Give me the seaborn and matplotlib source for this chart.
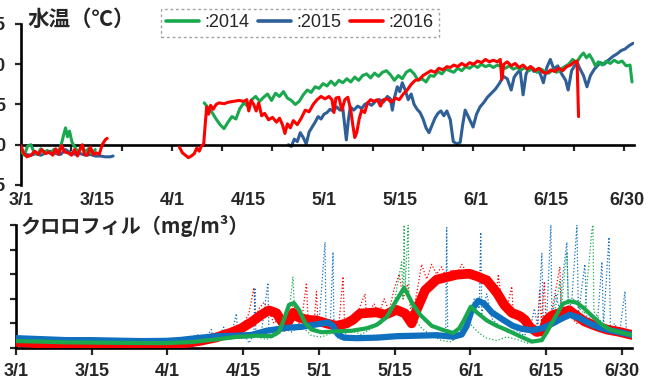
import matplotlib
matplotlib.use("Agg")
import matplotlib.pyplot as plt
from matplotlib.lines import Line2D
import seaborn as sns

# x values are days counted from 3/1

# ---------------- water temperature (deg C) ----------------
t14_mar_day = [0, 0.7, 1.3, 2, 2.6, 3.3, 4, 4.6, 5.3, 6, 6.6, 7.3, 8, 8.6, 9, 9.4, 9.8,
               10.3, 11, 11.6, 12.3, 13, 13.6, 14.3, 15]
t14_mar_val = [-0.8, -1.3, -0.2, 0.0, -0.9, -1.2, -0.5, -1.0, -0.7, -1.1, -0.6, -1.0, -0.3,
               1.2, 2.1, 1.0, 1.7, 0.3, -0.4, -1.0, -0.2, -0.9, -0.5, -1.1, -0.6]
t14_spr_day = [37, 37.8, 38.6, 39.4, 40.2, 41, 41.8, 42.6, 43.4, 44.2, 45, 45.8, 46.6, 47.4,
               48.2, 49, 49.8, 50.6, 51.4, 52.2, 53, 53.8, 54.6, 55.4, 56.2, 57, 57.8, 58.6,
               59.4, 60.2, 61, 61.8, 62.6, 63.4, 64.2, 65, 65.8, 66.6, 67.4, 68.2, 69, 69.8,
               70.6, 71.4, 72.2, 73, 73.8, 74.6, 75.4, 76.2, 77, 77.8, 78.6, 79.4, 80.2, 81,
               81.8, 82.6, 83.4, 84.2, 85, 85.8, 86.6, 87.4, 88.2, 89, 89.8, 90.6, 91.4, 92.2,
               93, 93.8, 94.6, 95.4, 96.2, 97, 97.8, 98.6, 99.4, 100.2, 101, 101.8, 102.6,
               103.4, 104.2, 105, 105.8, 106.6, 107.4, 108.2, 109, 109.8, 110.6, 111.4, 112.2,
               113, 113.6, 114.2, 114.8, 115.4, 116, 116.6, 117.4, 118.2, 119, 119.8, 120.6,
               121.4, 122.2, 123, 123.4]
t14_spr_val = [5.2, 4.6, 4.0, 3.2, 2.5, 2.0, 2.8, 3.5, 3.2, 4.5, 5.2, 4.8, 5.6, 6.0,
               5.4, 5.9, 6.3, 5.5, 6.4, 6.0, 6.6, 5.8, 5.5, 5.0, 5.4, 6.2, 6.8, 6.5,
               7.2, 7.0, 7.6, 7.3, 7.9, 7.4, 8.0, 7.7, 8.2, 7.8, 8.4, 8.0, 8.6, 8.8,
               8.3, 8.9, 8.5, 9.0, 9.2, 8.7, 8.0, 8.6, 8.2, 9.0, 9.3, 8.8, 8.0, 8.2,
               7.8, 8.6, 8.5, 9.1, 8.8, 9.4, 9.2, 9.0, 9.5, 9.2, 9.7, 9.5, 9.9, 9.6,
               10.0, 9.7, 9.9, 9.6, 9.9, 9.7, 9.5, 9.8, 9.4, 9.6, 9.3, 9.6, 9.2,
               9.5, 9.0, 9.4, 9.1, 8.9, 9.3, 9.0, 9.4, 9.7, 10.0, 10.6, 10.2,
               11.0, 11.4, 10.8, 11.2, 10.6, 9.8, 10.3, 9.9, 10.4, 10.1, 10.5, 10.2,
               10.4, 9.8, 9.9, 7.8]

t15_mar_day = [0, 1, 2, 3, 4, 5, 6, 7, 8, 9, 10, 11, 12, 13, 14, 15, 16, 17, 18, 18.6]
t15_mar_val = [-1.0, -1.2, -1.3, -1.1, -1.3, -1.0, -0.8, -1.1, -1.2, -0.6, -1.0, -1.2,
               -1.1, -1.3, -1.2, -1.4, -1.4, -1.5, -1.5, -1.4]
t15_spr_day = [54.0, 54.6, 55.2, 55.8, 56.4, 57.0, 57.6, 58.2, 58.8, 59.4, 60.0, 60.6, 61.2,
               61.8, 62.4, 63.0, 63.8, 64.4, 65.0, 65.7, 66.1, 66.5, 67.2, 68.0, 68.8, 69.4,
               70.0, 70.8, 71.6, 72.4, 73.2, 74.0, 74.6, 75.0, 75.4, 76.0, 76.5, 77.0, 77.6,
               78.2, 78.8, 79.4, 80.0, 80.6, 81.2, 81.8, 82.4, 83.0, 83.6, 84.2, 84.8, 85.4,
               86.0, 86.7, 87.3, 88.0, 88.7, 89.2, 89.7, 90.4, 91.3, 92.0, 92.7, 93.4, 94.2,
               95.0, 95.8, 96.6, 97.4, 98.2, 99.0, 99.6, 100.2, 100.8, 101.4, 102.0, 102.8,
               103.6, 104.4, 105.0, 105.5, 106.2, 106.9, 107.6, 108.4, 109.0, 109.5, 110.0,
               110.5, 111.2, 111.8, 112.3, 113.0, 113.6, 114.3, 115.0, 115.8, 116.4, 117.0,
               117.8, 118.6, 119.6, 120.4, 121.2, 122.0, 122.8, 123.6]
t15_spr_val = [0.0, -0.2, 0.7, 0.4, 1.5, 0.9, 0.1, 1.6, 2.2, 2.8, 3.5, 3.2, 3.8,
               4.0, 4.4, 4.2, 4.7, 4.3, 4.5, 0.6, 3.0, 4.7, 4.3, 4.8, 4.5, 5.0,
               5.2, 4.9, 5.4, 5.6, 5.3, 6.0, 5.7, 4.3, 5.8, 7.2, 6.6, 7.7, 6.8,
               5.6, 6.3, 5.0, 4.4, 4.0, 3.2, 2.1, 1.5, 2.4, 3.3, 3.9, 4.2, 3.6,
               4.2, 3.1, 0.4, 0.1, 0.3, 2.5, 4.3, 3.4, 2.2, 3.8, 4.7, 5.2, 5.9,
               6.4, 6.9, 7.6, 8.5, 8.2, 6.8, 8.4, 8.9, 9.3, 6.2, 8.8, 9.7,
               9.1, 9.4, 8.6, 7.7, 9.6, 10.6, 9.4, 9.8, 9.0, 8.5, 8.0,
               6.8, 9.2, 9.8, 10.2, 9.3, 8.6, 7.2, 8.6, 9.4, 9.8, 10.2,
               10.0, 10.5, 11.0, 11.3, 11.7, 11.9, 12.3, 12.6]

t16_mar_day = [0, 0.5, 1.2, 2, 2.8, 3.5, 4.2, 5, 5.7, 6.4, 7, 7.6, 8.2, 8.8, 9.5, 10.2,
               10.8, 11.4, 12, 12.4, 12.8, 13.4, 14, 14.6, 15.2, 15.8, 16.4, 17, 17.4]
t16_mar_val = [-0.1, -1.0, -1.5, -1.3, -0.8, -1.2, -0.6, -1.1, -0.9, -1.3, -0.5, -1.2,
               -0.1, -0.9, -1.0, -1.3, -0.6, -1.4, -0.4, 0.0, -1.2, -1.3, -0.3, -1.2,
               -1.0, -1.2, 0.0, 0.6, 0.8]
t16_spr_day = [32.0, 32.6, 33.2, 33.8, 34.4, 35.0, 35.5, 36.0, 36.4, 36.9, 37.2, 37.5,
               37.9, 38.3, 38.8, 39.4, 40.0, 41.0, 42.0, 43.0, 44.0, 45.0, 45.6, 46.0,
               46.5, 47.0, 47.5, 48.0, 48.6, 49.2, 50.0, 50.8, 51.6, 52.2, 52.8, 53.3,
               53.8, 54.4, 55.0, 55.8, 56.6, 57.4, 58.2, 59.0, 59.8, 60.6, 61.4, 62.2,
               62.8, 63.2, 63.6, 64.2, 64.8, 65.4, 66.0, 66.6, 67.0, 67.4, 67.8, 68.3,
               68.8, 69.4, 70.0, 70.6, 71.2, 72.0, 72.6, 73.2, 74.0, 74.8, 75.6, 76.4,
               77.2, 78.0, 78.8, 79.6, 80.4, 81.2, 82.0, 82.8, 83.6, 84.4, 85.2, 86.0,
               86.7, 87.4, 88.2, 89.0, 89.8, 90.6, 91.4, 92.2, 93.0, 93.8, 94.6, 95.4,
               96.2, 96.8, 97.1, 97.5, 98.2, 99.0, 99.8, 100.6, 101.4, 102.2, 103.0,
               103.8, 104.6, 105.4, 106.2, 107.0, 107.8, 108.6, 109.4, 110.2, 111.0,
               111.8, 112.3, 112.6]
t16_spr_val = [-0.3, -1.0, -1.3, -1.6, -1.4, -1.1, -0.4, -0.8, -0.2, 0.1, 2.5, 4.7,
               3.8, 4.9, 4.4, 5.0, 5.2, 5.1, 5.3, 5.4, 5.5, 5.4, 5.6, 4.2,
               5.5, 5.0, 4.2, 5.2, 3.6, 3.9, 3.1, 3.4, 2.8, 3.3, 2.5, 1.4,
               2.6, 2.1, 3.0, 2.5, 3.3, 4.3, 4.1, 5.0, 5.6, 6.0, 5.7, 6.0,
               5.6, 4.0, 5.8, 5.9, 4.3, 5.6, 5.9, 4.3, 2.5, 0.9, 1.5, 3.2,
               4.3, 4.0, 5.2, 5.6, 5.4, 5.6, 4.8, 5.6, 5.7, 5.3, 5.8, 5.6,
               6.3, 6.8, 7.5, 8.0, 8.1, 8.6, 8.9, 9.2, 9.0, 9.5, 9.3, 9.7,
               9.6, 9.9, 9.7, 10.1, 9.8, 10.2, 10.0, 10.4, 10.2, 10.6, 10.3, 10.5,
               10.3, 10.6, 8.1, 10.0, 10.3, 9.8, 10.1, 9.6, 9.9, 9.4, 9.7,
               9.2, 9.5, 9.0, 8.9, 9.3, 9.1, 9.5, 9.2, 9.7, 9.9,
               10.3, 10.4, 3.5]

# ---------------- chlorophyll (mg/m3) ----------------
c14_raw_day = [0, 5, 10, 15, 20, 25, 30, 35, 40, 44, 48, 50, 52, 53.5, 54.5, 55.3, 55.6,
               56.5, 57.5, 59, 61, 63, 65, 67, 69, 71, 73, 74.5, 75.5, 77.0, 77.3, 77.5,
               77.7, 78.3, 78.5, 79.5, 81, 83, 85, 87, 88.5, 90, 91, 92.5, 94, 96, 98, 100,
               102, 104, 106, 107.5, 108.6, 108.9, 109.5, 110, 110.3, 111.5, 112.5, 113.5,
               115.0, 115.2, 115.4, 117, 119, 121, 123]
c14_raw_val = [2.0, 2.5, 1.8, 2.5, 1.5, 2.0, 1.8, 2.5, 3.0, 4.0, 4.5, 3.5, 5.0, 10.0, 14.0,
               29.0, 16.0, 12.0, 8.0, 5.0, 4.5, 6.0, 5.0, 7.0, 5.5, 8.0, 10.0, 14.0, 18.0,
               35.0, 20.0, 50.0, 24.0, 50.0, 20.0, 12.0, 8.0, 5.0, 3.0, 2.5, 6.0, 14.0, 9.0,
               6.0, 4.0, 3.0, 4.5, 3.5, 2.0, 2.5, 6.0, 14.0, 27.0, 16.0, 30.0, 39.0, 18.0,
               20.0, 16.0, 14.0, 48.0, 50.0, 15.0, 10.0, 8.0, 6.0, 5.0]
c15_raw_day = [33, 35, 36.5, 37, 38.5, 39, 39.3, 40.5, 41.5, 41.8, 43, 44, 44.3, 45.5, 46.5,
               47.5, 47.7, 47.9, 49, 50.3, 50.5, 52, 53.5, 55, 56.5, 58, 59.5, 60.5, 61.7,
               61.9, 62.8, 63.3, 63.5, 64.5, 66, 68, 70, 72, 74, 76, 78, 80, 82, 84, 85.8,
               86.0, 86.2, 87.5, 89, 90.5, 91.5, 92.5, 92.8, 93.0, 94, 95, 96.5, 98, 100,
               101.5, 102.8, 103.5, 104.2, 105.0, 105.3, 106, 106.8, 107.0, 107.8, 108.6,
               109.2, 110.0, 110.3, 111, 112.0, 112.3, 113.0, 113.6, 114.0, 115, 116, 117.0,
               117.3, 118.4, 118.7, 119.5, 120.5, 121.6, 121.9, 123]
c15_raw_val = [3.5, 4.2, 5.5, 3.8, 6.0, 7.5, 4.5, 5.0, 8.5, 4.8, 5.2, 14.0, 5.0, 6.0, 2.0,
               5.5, 24.5, 5.5, 6.5, 26.5, 6.0, 7.0, 8.0, 6.5, 8.5, 9.5, 7.5, 10.0, 43.0,
               9.0, 12.0, 39.0, 6.0, 3.5, 4.5, 3.0, 4.0, 3.5, 5.0, 4.0, 5.5, 4.5, 5.5, 4.0,
               4.5, 49.0, 5.0, 3.5, 6.0, 12.0, 20.0, 16.0, 47.0, 14.0, 22.0, 12.0, 9.0, 6.5,
               7.0, 5.0, 9.0, 16.0, 8.0, 38.5, 9.0, 14.0, 50.0, 12.0, 22.0, 15.0, 30.0, 43.0,
               14.0, 20.0, 50.0, 13.0, 25.0, 34.0, 10.0, 14.0, 8.0, 35.0, 9.0, 45.0, 7.0,
               10.0, 6.0, 23.0, 5.0, 6.0]
c16_raw_day = [0, 3, 6, 9, 12, 15, 18, 22, 26, 30, 33, 36, 39, 42, 44, 45.5, 46.5, 47.5,
               47.8, 48.5, 49.5, 50.5, 51.5, 52.5, 53.5, 54.5, 55.5, 56.5, 57.2, 58.0, 58.3,
               59.5, 60.0, 60.3, 61.5, 63, 64.5, 65.3, 65.6, 67, 68.5, 69.7, 70, 71.5, 72.5,
               73.5, 74.5, 75.5, 76.5, 77.3, 78.2, 79, 80, 81, 82, 83, 84, 85, 86, 87, 88,
               89, 90, 91.5, 93, 94.5, 96, 96.3, 97, 98, 99, 99.3, 100.5, 101.5, 102.5, 104,
               104.6, 104.9, 105.5, 105.8, 107, 108.6, 108.9, 110, 111, 112, 114, 116, 118,
               120, 123]
c16_raw_val = [4.5, 3.5, 4.0, 3.2, 4.0, 3.0, 1.5, 1.0, 1.2, 1.5, 2.0, 2.5, 4.0, 6.5, 8.5,
               10.0, 14.0, 24.5, 12.0, 16.0, 18.5, 15.0, 10.0, 12.0, 6.5, 14.0, 18.0, 10.0,
               14.0, 26.5, 12.0, 9.5, 23.0, 10.0, 12.0, 8.0, 10.0, 29.0, 10.0, 12.0, 16.0,
               22.0, 13.0, 18.0, 14.0, 20.0, 15.0, 24.0, 30.0, 20.0, 26.0, 12.0, 22.0, 34.0,
               28.0, 34.0, 30.0, 33.0, 28.0, 32.0, 30.0, 34.0, 31.0, 30.0, 26.0, 29.0, 22.0,
               30.0, 18.0, 16.0, 25.0, 13.0, 14.0, 12.0, 9.0, 7.0, 24.0, 10.0, 27.0, 12.0,
               15.0, 33.0, 14.0, 16.0, 12.0, 10.0, 11.0, 9.0, 8.0, 7.0, 5.5]

c14_fit_day = [0, 5, 10, 15, 20, 25, 30, 35, 40, 44, 48, 51, 52.5, 53.5, 54.5, 55.5, 56.5,
               57.8, 59, 61, 64, 67, 70, 72, 74, 75.7, 77.5, 79.3, 80.7, 83, 85.3, 87.3,
               88.5, 89.5, 90.8, 92, 94, 96, 98, 100.6, 103, 105, 106, 107.5, 109.2, 110.5,
               112, 113.5, 115.2, 117, 118.6, 121, 123]
c14_fit_val = [2.8, 2.6, 2.3, 2.2, 2.1, 2.0, 2.0, 2.4, 3.5, 4.5, 5.0, 4.8, 6.5, 11.5, 17.5,
               18.3, 15.5, 10.0, 7.5, 6.4, 6.8, 7.0, 8.0, 9.4, 12.5, 18.5, 24.5, 17.6, 13.5,
               9.0, 7.3, 6.1, 8.0, 11.5, 16.8, 14.5, 11.2, 9.0, 7.3, 4.8, 2.6, 3.2, 6.5,
               12.0, 18.0, 19.0, 18.4, 16.0, 12.7, 9.5, 7.5, 6.2, 5.3]
c15_fit_day = [0, 5, 10, 15, 20, 25, 30, 33, 36, 40, 44, 47, 50, 54, 57, 60, 61.2, 62.3,
               63.3, 64.3, 65.5, 68, 72, 76, 80, 84, 87.3, 89, 90, 91, 92.3, 93.5, 95, 97,
               99.2, 101, 103, 105, 107, 109, 110.6, 112.5, 114.5, 116.5, 118.5, 121, 123]
c15_fit_val = [4.0, 3.6, 3.2, 3.2, 3.0, 2.8, 2.9, 3.3, 4.0, 4.8, 5.0, 5.3, 7.0, 8.2, 8.6,
               9.6, 10.0, 10.4, 9.0, 5.5, 4.2, 4.0, 4.2, 4.8, 5.0, 5.2, 4.6, 5.5, 9.0, 15.5,
               19.2, 18.0, 14.5, 11.8, 9.0, 7.8, 7.2, 8.0, 9.8, 12.0, 13.5, 12.2, 10.0, 8.3,
               7.2, 6.2, 5.3]
c16_fit_day = [0, 4, 8, 12, 16, 20, 24, 28, 31, 34, 37, 40, 43, 45, 47, 49, 50.5, 52, 53,
               53.8, 54.6, 55.4, 56.4, 58, 60, 62, 64, 66, 67.3, 68.7, 72, 73.7, 76, 77.7,
               79, 80, 81.7, 84, 88, 90.5, 92, 94, 96, 97.5, 99, 100.6, 101.6, 102.6, 104,
               105.2, 106, 107, 109, 110.5, 112, 113.5, 116, 118, 120.6, 123]
c16_fit_val = [2.5, 2.0, 1.5, 1.3, 1.3, 1.2, 1.2, 1.3, 1.5, 2.0, 3.0, 4.3, 6.3, 8.0, 10.5,
               13.5, 15.3, 14.2, 11.0, 8.8, 11.5, 14.3, 12.5, 11.5, 11.2, 10.0, 9.0, 10.0,
               11.5, 14.0, 14.5, 13.5, 15.5, 14.0, 10.0, 15.5, 23.5, 27.8, 29.8, 30.2, 29.2,
               27.5, 22.5, 17.5, 14.3, 13.0, 11.5, 8.5, 6.5, 7.0, 11.5, 13.2, 14.5, 15.3,
               13.0, 10.8, 8.8, 7.5, 6.5, 5.3]

date_labels = ["3/1", "3/15", "4/1", "4/15", "5/1", "5/15", "6/1", "6/15", "6/30"]
years = [":2014", ":2015", ":2016"]

GREEN = "#1aa84e"
BLUE_T = "#2f5f97"
BLUE_C = "#1070c0"
RED = "#ff0000"

sns.set_theme(style="white")
plt.rcParams["font.family"] = ["Liberation Sans", "Noto Sans CJK JP"]

fig = plt.figure(figsize=(6.59, 3.82), dpi=100)
ax_t = fig.add_axes([21 / 659, 1 - 185 / 382, 613 / 659, 161 / 382])
ax_c = fig.add_axes([16 / 659, 1 - 348 / 382, 616 / 659, 123 / 382])

# --- top: water temperature ---
for d, v, c, z in [(t15_mar_day, t15_mar_val, BLUE_T, 2), (t15_spr_day, t15_spr_val, BLUE_T, 2),
                   (t14_mar_day, t14_mar_val, GREEN, 3), (t14_spr_day, t14_spr_val, GREEN, 3),
                   (t16_mar_day, t16_mar_val, RED, 4), (t16_spr_day, t16_spr_val, RED, 4)]:
    sns.lineplot(x=d, y=v, ax=ax_t, color=c, linewidth=2.2, sort=False,
                 estimator=None, zorder=z)

ax_t.set_xlim(0, 123.8)
ax_t.set_ylim(-5, 15)
for s in ["top", "right"]:
    ax_t.spines[s].set_visible(False)
ax_t.spines["bottom"].set_position(("data", 0))
for s in ["left", "bottom"]:
    ax_t.spines[s].set_linewidth(1.9)
    ax_t.spines[s].set_color("black")
ax_t.set_yticks([-5, 0, 5, 10, 15])
ax_t.set_yticklabels(["-5", "0", "5", "10", "15"], fontsize=13, fontweight="bold")
ax_t.tick_params(axis="y", length=4, width=1.6, direction="out", pad=7, left=True)
ax_t.set_xticks([i * 15.3 for i in range(len(date_labels))])
ax_t.set_xticklabels(date_labels, fontsize=13, fontweight="bold")
ax_t.tick_params(axis="x", which="major", length=0, pad=34)
ax_t.set_xticks([i * 121.8 / 12 for i in range(13)], minor=True)
ax_t.tick_params(axis="x", which="minor", length=4, width=1.6, direction="out", bottom=True)
ax_t.set_xlabel("")
ax_t.set_ylabel("")

# --- bottom: chlorophyll ---
for d, v, c in [(c16_raw_day, c16_raw_val, RED), (c14_raw_day, c14_raw_val, GREEN),
                (c15_raw_day, c15_raw_val, BLUE_C)]:
    sns.lineplot(x=d, y=v, ax=ax_c, color=c, linewidth=0.9, linestyle=":",
                 sort=False, estimator=None, zorder=2)
for d, v, c, w, z in [(c16_fit_day, c16_fit_val, RED, 7, 3),
                      (c15_fit_day, c15_fit_val, BLUE_C, 4.5, 4),
                      (c14_fit_day, c14_fit_val, GREEN, 3, 5)]:
    sns.lineplot(x=d, y=v, ax=ax_c, color=c, linewidth=w, sort=False,
                 estimator=None, zorder=z)

ax_c.set_xlim(0, 123)
ax_c.set_ylim(0, 50)
for s in ["top", "right"]:
    ax_c.spines[s].set_visible(False)
for s in ["left", "bottom"]:
    ax_c.spines[s].set_linewidth(1.9)
    ax_c.spines[s].set_color("black")
ax_c.set_yticks([0, 10, 20, 30, 40, 50])
ax_c.set_yticklabels([])
ax_c.tick_params(axis="y", length=4, width=1.6, direction="out", left=True)
ax_c.set_xticks([i * 15.125 for i in range(len(date_labels))])
ax_c.set_xticklabels(date_labels, fontsize=13, fontweight="bold")
ax_c.tick_params(axis="x", length=5, width=1.6, direction="out", pad=6, bottom=True)
ax_c.set_xlabel("")
ax_c.set_ylabel("")

# titles
fig.text(28 / 659, 1 - 19 / 382, "水温（℃）", fontsize=15.5, fontweight="bold",
         family=["Noto Sans CJK JP"], ha="left", va="center")
fig.text(21 / 659, 1 - 226 / 382, "クロロフィル（mg/m³）", fontsize=14.5, fontweight="bold",
         family=["Noto Sans CJK JP", "DejaVu Sans"], ha="left", va="center")

# legend
handles = [Line2D([], [], color=c, linewidth=2.6) for c in [GREEN, BLUE_T, RED]]
leg = fig.legend(handles, years, loc="upper left", bbox_to_anchor=(161 / 659, 1 - 9 / 382),
                 ncol=3, fontsize=13, handlelength=1.8, handletextpad=0.3,
                 columnspacing=0.5, borderpad=0.3, borderaxespad=0, frameon=True,
                 fancybox=False)
leg.get_frame().set_edgecolor("#8c8c8c")
leg.get_frame().set_linestyle((0, (2, 2)))
leg.get_frame().set_linewidth(1.0)

fig.savefig("out.png", dpi=100)
